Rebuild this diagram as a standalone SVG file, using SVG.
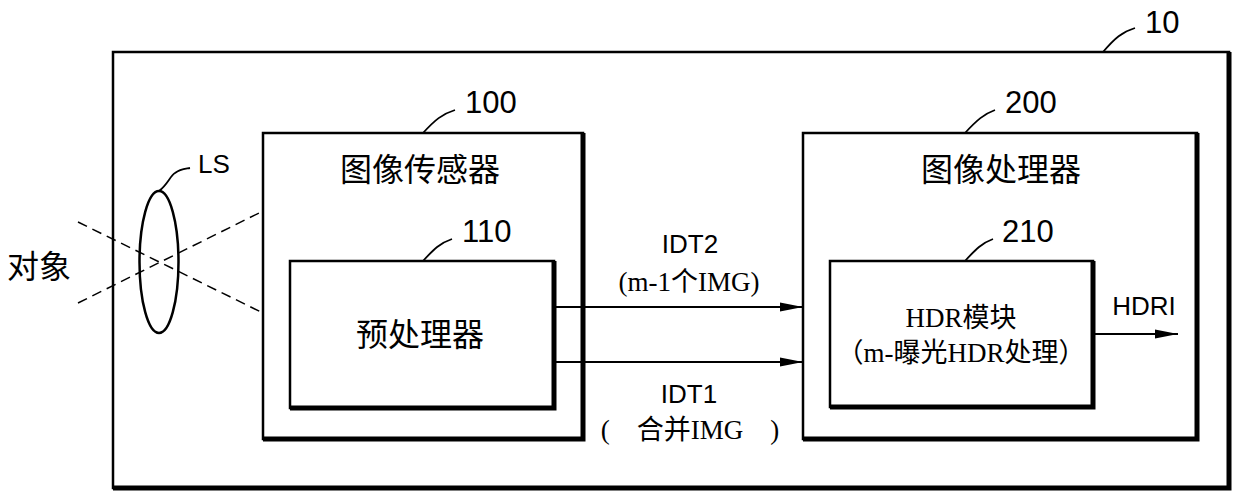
<svg xmlns="http://www.w3.org/2000/svg" width="1240" height="500" viewBox="0 0 1240 500">
<style>
.box{fill:none;stroke:#000;stroke-width:2.5}
.sh{fill:none;stroke:#000;stroke-width:5}
.ln{fill:none;stroke:#000;stroke-width:2}
.ld{fill:none;stroke:#000;stroke-width:1.8}
.dash{fill:none;stroke:#000;stroke-width:1.5;stroke-dasharray:10 6}
.num{font-family:"Liberation Sans",Arial,sans-serif;font-size:31px;fill:#000}
.lab{font-family:"Liberation Sans",Arial,sans-serif;font-size:26px;fill:#000}
.cjk{font-family:"Noto Sans CJK SC","Liberation Sans",sans-serif;font-size:32px;fill:#000}
.ser{font-family:"Liberation Serif","Noto Sans CJK SC",serif;font-size:27px;fill:#000}
.c{font-family:"Noto Sans CJK SC",sans-serif}
</style>
<defs>
<marker id="ah" markerWidth="24" markerHeight="10" refX="23" refY="5" orient="auto" markerUnits="userSpaceOnUse">
<path d="M0,0.5 L23,5 L0,9.5 Z" fill="#000"/>
</marker>
</defs>
<rect width="1240" height="500" fill="#fff"/>

<g id="n10">
<rect class="box" x="113" y="52" width="1116" height="436"/>
<path class="sh" d="M1229,52 V488 H113"/>
<path class="ld" d="M1103,52 C1115,38 1122,32 1135,28"/>
<text class="num" x="1145" y="33">10</text>
</g>

<g id="n100">
<rect class="box" x="263" y="133" width="320" height="306"/>
<path class="sh" d="M583,133 V439 H263"/>
<path class="ld" d="M423,133 C435,120 442,114 455,110"/>
<text class="num" x="465" y="113">100</text>
<text class="cjk" x="420" y="181" text-anchor="middle">图像传感器</text>
</g>

<g id="n110">
<rect class="box" x="290" y="261" width="264" height="147"/>
<path class="sh" d="M554,261 V408 H290"/>
<path class="ld" d="M423,261 C434,249 440,243 452,239"/>
<text class="num" x="462" y="242">110</text>
<text class="cjk" x="420" y="346" text-anchor="middle" font-size="34">预处理器</text>
</g>

<g id="n200">
<rect class="box" x="803" y="133" width="394" height="306"/>
<path class="sh" d="M1197,133 V439 H803"/>
<path class="ld" d="M965,133 C977,120 984,114 995,110"/>
<text class="num" x="1005" y="113">200</text>
<text class="cjk" x="1001" y="181" text-anchor="middle">图像处理器</text>
</g>

<g id="n210">
<rect class="box" x="830" y="261" width="263" height="146"/>
<path class="sh" d="M1093,261 V407 H830"/>
<path class="ld" d="M965,261 C976,249 982,243 993,239"/>
<text class="num" x="1002" y="242">210</text>
<text class="ser" x="961" y="327" text-anchor="middle">HDR<tspan class="c">模块</tspan></text>
<text class="ser" x="961" y="362" text-anchor="middle" font-size="29"><tspan class="c">（</tspan>m-<tspan class="c">曝光</tspan>HDR<tspan class="c">处理）</tspan></text>
</g>

<g id="lens">
<ellipse cx="159" cy="262" rx="19.5" ry="71" fill="none" stroke="#000" stroke-width="2.5"/>
<path class="ld" d="M159,191 C168,184 170,176 175,173 C180,169 184,169 190,168"/>
<text class="lab" x="198" y="173" font-size="29">LS</text>
<path class="dash" d="M78,222 L263,313"/>
<path class="dash" d="M78,303 L263,211"/>
<text class="cjk" x="7" y="278" font-size="31">对象</text>
</g>

<g id="connectors">
<line class="ln" x1="554" y1="307" x2="803" y2="307" marker-end="url(#ah)"/>
<line class="ln" x1="554" y1="362" x2="803" y2="362" marker-end="url(#ah)"/>
<line class="ln" x1="1093" y1="334" x2="1178" y2="334" marker-end="url(#ah)"/>
</g>

<g id="labels">
<text class="lab" x="690" y="253" text-anchor="middle">IDT2</text>
<text class="ser" x="689" y="291" text-anchor="middle">(m-1<tspan class="c">个</tspan>IMG)</text>
<text class="lab" x="689" y="403" text-anchor="middle">IDT1</text>
<text class="ser" x="690" y="439" text-anchor="middle">(<tspan class="c">　合并</tspan>IMG<tspan class="c">　</tspan>)</text>
<text class="lab" x="1144" y="315" text-anchor="middle" font-size="29">HDRI</text>
</g>
</svg>
